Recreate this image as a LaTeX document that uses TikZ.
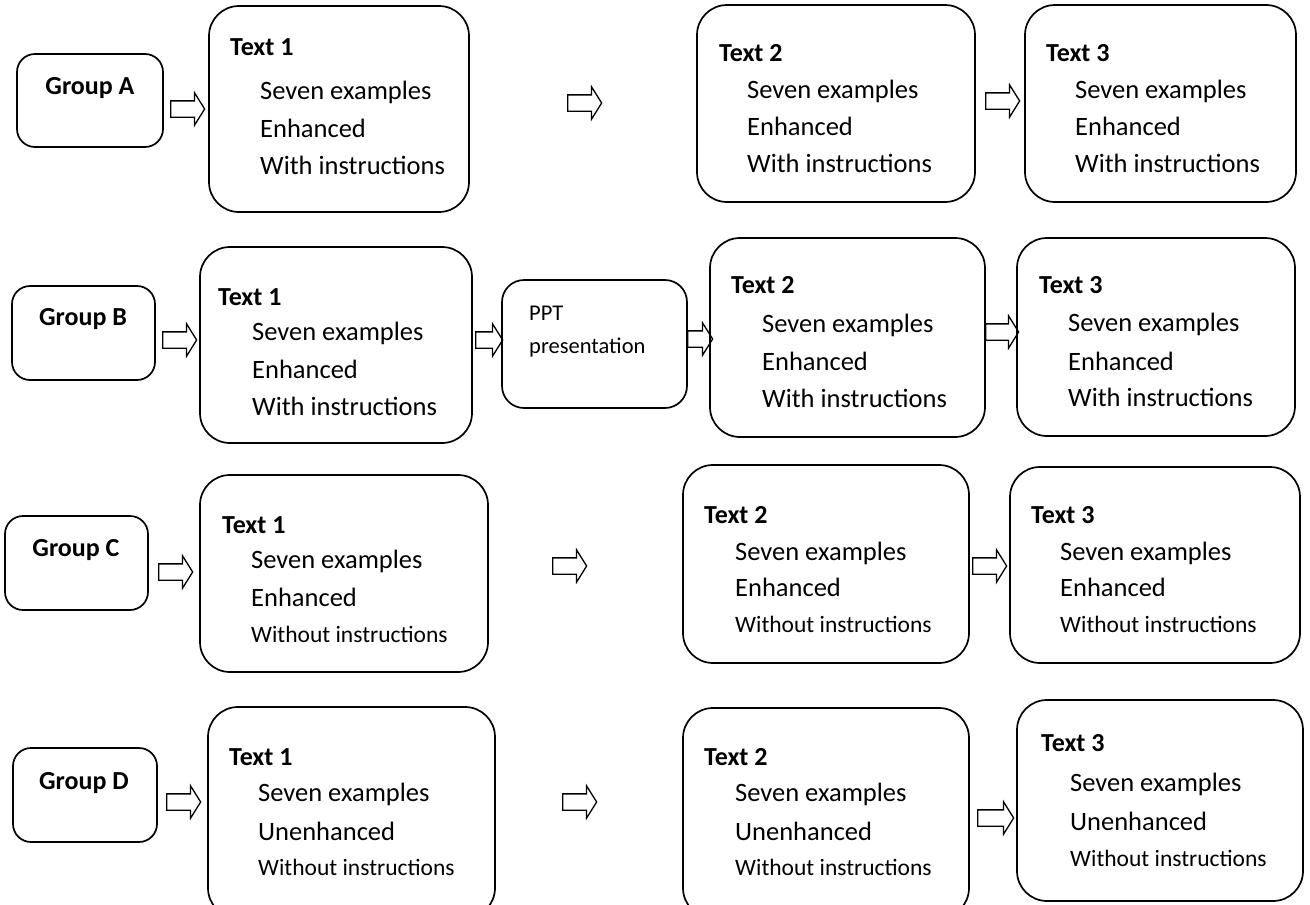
\documentclass[tikz,border=0pt]{standalone}
\usepackage{fontspec}
\setmainfont{Carlito}
\usetikzlibrary{shapes.arrows}
\begin{document}
\begin{tikzpicture}[x=1pt,y=-1pt,
  box/.style={draw,line width=1.7pt,rounded corners=30pt},
  gbox/.style={draw,line width=1.7pt,rounded corners=18pt},
  pbox/.style={draw,line width=1.7pt,rounded corners=22pt},
  glabel/.style={font=\fontsize{26}{30}\selectfont\bfseries,anchor=center,inner sep=0pt},
  ttl/.style={font=\fontsize{26}{30}\selectfont\bfseries,anchor=base west,inner sep=0pt},
  ln/.style={font=\fontsize{26.5}{30}\selectfont,anchor=base west,inner sep=0pt},
  lns/.style={font=\fontsize{23.5}{28}\selectfont,anchor=base west,inner sep=0pt},
  barrow/.style={draw,line width=1.3pt,single arrow,single arrow head extend=8pt,
    single arrow tip angle=116,inner sep=7.5pt,minimum height=#1,anchor=west},
  barrow/.default=34pt]
\useasboundingbox (0,0) rectangle (1310,905);
% ---------- Row A
\draw[gbox] (17,54) rectangle (163,147); \node[glabel] (ga) at (90,88) {Group A};
\node[barrow] (aa1) at (170,109) {};
\draw[box] (209,6) rectangle (469,212);
\node[ttl] (a1t) at (230,55) {Text 1};
\node[ln] (a1a) at (260,99) {Seven examples};
\node[ln] (a1b) at (260,137) {Enhanced};
\node[ln] (a1c) at (260,174) {With instructions};
\node[barrow] (aa2) at (567,103) {};
\draw[box] (697,5) rectangle (975,202);
\node[ttl] (a2t) at (719,61) {Text 2};
\node[ln] (a2a) at (747,98) {Seven examples};
\node[ln] (a2b) at (747,135) {Enhanced};
\node[ln] (a2c) at (747,172) {With instructions};
\node[barrow] (aa3) at (985,101) {};
\draw[box] (1025,5) rectangle (1296,202);
\node[ttl] (a3t) at (1046,61) {Text 3};
\node[ln] (a3a) at (1075,98) {Seven examples};
\node[ln] (a3b) at (1075,135) {Enhanced};
\node[ln] (a3c) at (1075,172) {With instructions};
% ---------- Row B
\draw[gbox] (12,286) rectangle (155,380); \node[glabel] (gb) at (83,319) {Group B};
\node[barrow] (ab1) at (162,340) {};
\draw[box] (200,247) rectangle (472,443);
\node[ttl] (b1t) at (218,305) {Text 1};
\node[ln] (b1a) at (252,340) {Seven examples};
\node[ln] (b1b) at (252,378) {Enhanced};
\node[ln] (b1c) at (252,415) {With instructions};
\node[barrow=27pt] (ab2) at (475,340) {};
\draw[pbox] (502,280) rectangle (687,408);
\node[lns,font=\fontsize{22.5}{26}\selectfont] (pp1) at (529,320) {PPT};
\node[lns,font=\fontsize{22.5}{26}\selectfont] (pp2) at (529,353) {presentation};
\node[barrow=25pt] (ab3) at (687,339) {};
\draw[box] (710,238) rectangle (985,437);
\node[ttl] (b2t) at (731,293) {Text 2};
\node[ln] (b2a) at (762,332) {Seven examples};
\node[ln] (b2b) at (762,370) {Enhanced};
\node[ln] (b2c) at (762,407) {With instructions};
\node[barrow=33pt] (ab4) at (985,332) {};
\draw[box] (1017,238) rectangle (1295,436);
\node[ttl] (b3t) at (1039,293) {Text 3};
\node[ln] (b3a) at (1068,331) {Seven examples};
\node[ln] (b3b) at (1068,370) {Enhanced};
\node[ln] (b3c) at (1068,406) {With instructions};
% ---------- Row C
\draw[gbox] (5,516) rectangle (148,610); \node[glabel] (gc) at (76,550) {Group C};
\node[barrow] (ac1) at (158,572) {};
\draw[box] (200,475) rectangle (488,672);
\node[ttl] (c1t) at (222,533) {Text 1};
\node[ln] (c1a) at (251,568) {Seven examples};
\node[ln] (c1b) at (251,606) {Enhanced};
\node[lns] (c1c) at (251,642) {Without instructions};
\node[barrow] (ac2) at (552,566) {};
\draw[box] (683,465) rectangle (969,663);
\node[ttl] (c2t) at (704,523) {Text 2};
\node[ln] (c2a) at (735,560) {Seven examples};
\node[ln] (c2b) at (735,596) {Enhanced};
\node[lns] (c2c) at (735,632) {Without instructions};
\node[barrow] (ac3) at (972,566) {};
\draw[box] (1010,467) rectangle (1300,663);
\node[ttl] (c3t) at (1031,523) {Text 3};
\node[ln] (c3a) at (1060,560) {Seven examples};
\node[ln] (c3b) at (1060,596) {Enhanced};
\node[lns] (c3c) at (1060,632) {Without instructions};
% ---------- Row D
\draw[gbox] (13,748) rectangle (157,842); \node[glabel] (gd) at (84,783) {Group D};
\node[barrow] (ad1) at (166,802) {};
\draw[box] (208,707) rectangle (495,918);
\node[ttl] (d1t) at (229,765) {Text 1};
\node[ln] (d1a) at (258,801) {Seven examples};
\node[ln] (d1b) at (258,840) {Unenhanced};
\node[lns] (d1c) at (258,875) {Without instructions};
\node[barrow] (ad2) at (562,802) {};
\draw[box] (683,708) rectangle (969,918);
\node[ttl] (d2t) at (704,765) {Text 2};
\node[ln] (d2a) at (735,801) {Seven examples};
\node[ln] (d2b) at (735,840) {Unenhanced};
\node[lns] (d2c) at (735,875) {Without instructions};
\node[barrow=36pt] (ad3) at (977,818) {};
\draw[box] (1017,700) rectangle (1303,901);
\node[ttl] (d3t) at (1041,751) {Text 3};
\node[ln] (d3a) at (1070,791) {Seven examples};
\node[ln] (d3b) at (1070,830) {Unenhanced};
\node[lns] (d3c) at (1070,866) {Without instructions};
\end{tikzpicture}
\end{document}
